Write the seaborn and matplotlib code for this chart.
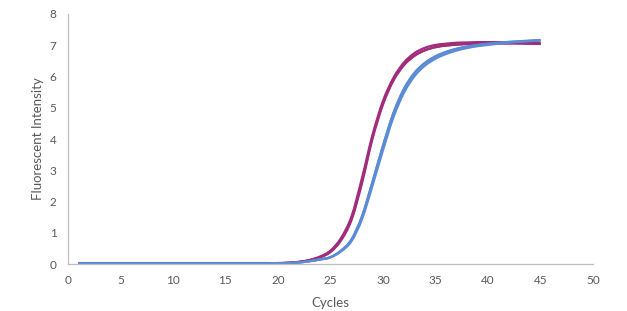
import pandas as pd
import matplotlib
matplotlib.use("Agg")
import matplotlib.pyplot as plt
from matplotlib.path import Path
from matplotlib.patches import PathPatch
import seaborn as sns

# Cycle numbers 1..45
cycles = list(range(1, 46))

baseline = [0.03] * 20

# Magenta replicates
magenta_a = baseline + [0.04, 0.07, 0.12, 0.22, 0.40, 0.78, 1.45, 2.65, 4.05, 5.15,
                        5.90, 6.38, 6.67, 6.84, 6.94, 6.99, 7.02, 7.04, 7.05, 7.06,
                        7.06, 7.06, 7.06, 7.05, 7.04]
magenta_b = baseline + [0.04, 0.07, 0.13, 0.24, 0.43, 0.83, 1.52, 2.75, 4.13, 5.22,
                        5.96, 6.45, 6.75, 6.92, 7.01, 7.05, 7.08, 7.09, 7.10, 7.10,
                        7.10, 7.10, 7.10, 7.09, 7.08]
magenta_c = baseline + [0.04, 0.06, 0.12, 0.21, 0.38, 0.75, 1.40, 2.58, 4.00, 5.10,
                        5.87, 6.36, 6.66, 6.84, 6.94, 6.99, 7.02, 7.04, 7.05, 7.06,
                        7.06, 7.06, 7.06, 7.05, 7.05]

# Blue replicates
blue_a = baseline + [0.03, 0.05, 0.09, 0.15, 0.22, 0.42, 0.78, 1.52, 2.62, 3.78,
                     4.83, 5.60, 6.11, 6.43, 6.64, 6.78, 6.88, 6.95, 7.00, 7.04,
                     7.07, 7.10, 7.12, 7.14, 7.16]
blue_b = baseline + [0.03, 0.05, 0.09, 0.14, 0.21, 0.40, 0.73, 1.43, 2.50, 3.64,
                     4.70, 5.48, 6.01, 6.35, 6.57, 6.72, 6.83, 6.91, 6.97, 7.01,
                     7.05, 7.08, 7.11, 7.13, 7.15]
blue_c = baseline + [0.03, 0.05, 0.09, 0.15, 0.22, 0.43, 0.79, 1.53, 2.63, 3.79,
                     4.84, 5.61, 6.12, 6.44, 6.65, 6.79, 6.89, 6.96, 7.01, 7.05,
                     7.08, 7.11, 7.13, 7.15, 7.17]

series = {
    "M1": magenta_a, "M2": magenta_b, "M3": magenta_c,
    "B1": blue_a, "B2": blue_b, "B3": blue_c,
}
magenta = "#A12C7B"
blue = "#5B8BD5"
colors = {k: (magenta if k.startswith("M") else blue) for k in series}

df = pd.DataFrame(
    [(name, c, v) for name, vals in series.items() for c, v in zip(cycles, vals)],
    columns=["well", "cycle", "value"],
)


def smooth_lines(ax):
    """Replace the polylines by smooth curves (like Excel's smoothed line)"""
    for line in list(ax.lines):
        pts = line.get_xydata()
        n = len(pts)
        verts = [tuple(pts[0])]
        codes = [Path.MOVETO]
        for i in range(n - 1):
            p0 = pts[max(i - 1, 0)]
            p1 = pts[i]
            p2 = pts[i + 1]
            p3 = pts[min(i + 2, n - 1)]
            c1 = p1 + (p2 - p0) / 6
            c2 = p2 - (p3 - p1) / 6
            verts += [tuple(c1), tuple(c2), tuple(p2)]
            codes += [Path.CURVE4] * 3
        patch = PathPatch(Path(verts, codes), fill=False,
                          edgecolor=line.get_color(), lw=line.get_linewidth(),
                          capstyle="butt", joinstyle="round", zorder=line.get_zorder())
        ax.add_patch(patch)
        line.remove()


sns.set_theme(style="white")
plt.rcParams["font.family"] = ["Lato", "DejaVu Sans"]
gray = "#595959"

fig = plt.figure(figsize=(6.27, 3.11), dpi=100)
ax = fig.add_axes([0.108, 0.151, 0.838, 0.804])

sns.lineplot(data=df, x="cycle", y="value", hue="well", palette=colors,
             linewidth=1.6, legend=False, ax=ax, estimator=None)
smooth_lines(ax)

ax.set_xlim(0, 50)
ax.set_ylim(0, 8)
ax.set_xticks(range(0, 51, 5))
ax.set_yticks(range(0, 9))
ax.tick_params(axis="both", length=0, labelsize=8.5, colors=gray, pad=8)
for s in ["top", "right"]:
    ax.spines[s].set_visible(False)
for s in ["left", "bottom"]:
    ax.spines[s].set_color("#BFBFBF")
    ax.spines[s].set_linewidth(0.9)

ax.set_xlabel("Cycles", fontsize=9.5, color=gray, labelpad=8)
ax.set_ylabel("Fluorescent Intensity", fontsize=9.5, color=gray, labelpad=4)

fig.savefig("out.png", dpi=100)
